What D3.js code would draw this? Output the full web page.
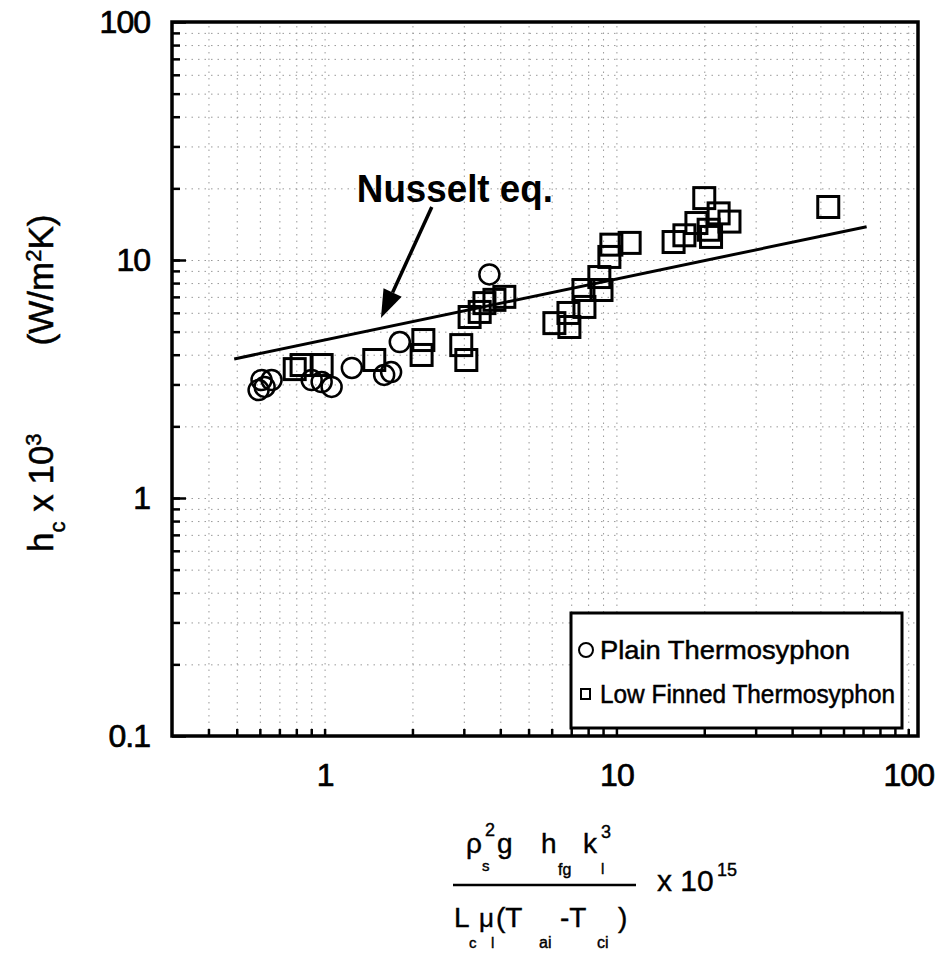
<!DOCTYPE html>
<html lang="en">
<head>
<meta charset="UTF-8">
<script src="https://cdn.jsdelivr.net/npm/d3@7"></script>
<style>
body { margin:0; background:#fff; }
text { font-family: "Liberation Sans", Arial, sans-serif; fill:#000; }
.grid line { stroke:#999; stroke-width:1; stroke-dasharray:1.5,5; }
.grid path, .ticks path, .labels path { display:none; }
.ticks line { stroke:#000; stroke-width:2.5; }
</style>
<title>hc vs Nusselt parameter</title>
</head>
<body>
<script>
// data
var plainX  = [0.594, 0.608, 0.658, 0.623, 0.903, 1.057, 0.977, 1.24, 1.60, 1.69, 1.81, 3.67];
var plainY  = [2.84, 3.13, 3.13, 2.93, 3.13, 2.93, 3.07, 3.52, 3.29, 3.38, 4.52, 8.7];
var finnedX = [0.79, 0.834, 0.977, 1.48, 2.18, 2.15, 2.94, 3.06, 3.14, 3.40, 3.53, 4.13, 3.82,
               6.13, 6.9, 6.85, 7.77, 7.71, 8.89, 8.74, 9.46, 9.61, 11.1, 15.7, 17.1, 18.8,
               20.0, 22.4, 24.4, 20.7, 21.1, 53.2];
var finnedY = [3.48, 3.62, 3.62, 3.80, 4.61, 3.99, 4.39, 3.80, 5.76, 6.05, 6.59, 7.0, 6.8,
               5.43, 5.23, 5.99, 6.35, 7.48, 7.48, 8.48, 10.3, 11.6, 11.8, 11.9, 12.7, 14.3,
               18.2, 15.7, 14.5, 13.4, 12.5, 16.7];
var nusseltX = [0.49, 72];
var nusseltY = [3.84, 13.8];
var xTicks = [1, 10, 100];
var yTicks = [0.1, 1, 10, 100];
var legendLabels = ["Plain Thermosyphon", "Low Finned Thermosyphon"];

var W = 951, H = 956;
var pL = 172, pT = 22, pR = 918, pB = 736;

var svg = d3.select("body").append("svg")
    .attr("width", W).attr("height", H);

var x = d3.scaleLog().domain([0.3, 108]).range([pL, pR]);
var y = d3.scaleLog().domain([0.1, 100]).range([pB, pT]);

function minors(lo, hi) {
  var out = [];
  for (var d = -2; d <= 2; d++)
    for (var k = 1; k <= 9; k++) {
      var v = k * Math.pow(10, d);
      if (v >= lo * 1.0001 && v <= hi * 0.9999) out.push(+v.toPrecision(3));
    }
  return out;
}
var xMinor = minors(0.3, 108), yMinor = minors(0.1, 100);

// dotted background grid
svg.append("g").attr("class", "grid")
  .attr("transform", "translate(0," + pB + ")")
  .call(d3.axisBottom(x).tickValues(xMinor).tickSize(-(pB - pT)).tickFormat(""));
svg.append("g").attr("class", "grid")
  .attr("transform", "translate(" + pL + ",0)")
  .call(d3.axisLeft(y).tickValues(yMinor).tickSize(-(pR - pL)).tickFormat(""));

// inward ticks
svg.append("g").attr("class", "ticks")
  .attr("transform", "translate(0," + pB + ")")
  .call(d3.axisBottom(x).tickValues(xMinor).tickSize(-7).tickFormat(""));
svg.append("g").attr("class", "ticks")
  .attr("transform", "translate(" + pL + ",0)")
  .call(d3.axisLeft(y).tickValues(yMinor).tickSize(-8).tickFormat(""));
svg.append("g").attr("class", "ticks")
  .attr("transform", "translate(" + pL + ",0)")
  .call(d3.axisLeft(y).tickValues(yTicks).tickSize(-14).tickFormat(""));

// frame
svg.append("rect")
  .attr("x", pL).attr("y", pT)
  .attr("width", pR - pL).attr("height", pB - pT)
  .attr("fill", "none").attr("stroke", "#000").attr("stroke-width", 3.5);

// tick labels
svg.append("g").attr("class", "labels")
  .attr("transform", "translate(0," + pB + ")")
  .call(d3.axisBottom(x).tickValues(xTicks).tickSize(0).tickPadding(27)
        .tickFormat(function(d) { return String(d); }));
svg.append("g").attr("class", "labels")
  .attr("transform", "translate(" + pL + ",0)")
  .call(d3.axisLeft(y).tickValues(yTicks).tickSize(0).tickPadding(22)
        .tickFormat(function(d) { return String(d); }));
svg.selectAll(".labels text")
  .attr("fill", "#000")
  .attr("stroke", "#000").attr("stroke-width", 0.7)
  .style("font-size", "32px")
  .style("letter-spacing", "-1px")
  .style("font-family", "'Liberation Sans', Arial, sans-serif");

// Nusselt line
var line = d3.line()
  .x(function(d) { return x(d[0]); })
  .y(function(d) { return y(d[1]); });
svg.append("path")
  .datum(d3.zip(nusseltX, nusseltY))
  .attr("d", line)
  .attr("fill", "none").attr("stroke", "#000").attr("stroke-width", 3);

// finned (squares)
var sq = 21;
svg.selectAll(".fin").data(d3.zip(finnedX, finnedY)).enter()
  .append("rect").attr("class", "fin")
  .attr("x", function(d) { return x(d[0]) - sq / 2; })
  .attr("y", function(d) { return y(d[1]) - sq / 2; })
  .attr("width", sq).attr("height", sq)
  .attr("fill", "none").attr("stroke", "#000").attr("stroke-width", 3);

// plain (circles)
svg.selectAll(".plain").data(d3.zip(plainX, plainY)).enter()
  .append("circle").attr("class", "plain")
  .attr("cx", function(d) { return x(d[0]); })
  .attr("cy", function(d) { return y(d[1]); })
  .attr("r", 10)
  .attr("fill", "none").attr("stroke", "#000").attr("stroke-width", 2.5);

// annotation "Nusselt eq." with arrow (data coordinates)
var noteText = [1.29, 17.5], arrowFrom = [2.33, 16.7], arrowTip = [1.56, 5.71];
svg.append("text")
  .attr("x", x(noteText[0])).attr("y", y(noteText[1]))
  .attr("textLength", 196).attr("lengthAdjust", "spacingAndGlyphs")
  .style("font-size", "38px").style("font-weight", "bold")
  .text("Nusselt eq.");
var ax0 = x(arrowFrom[0]), ay0 = y(arrowFrom[1]);
var ax1 = x(arrowTip[0]), ay1 = y(arrowTip[1]);
var ang = Math.atan2(ay1 - ay0, ax1 - ax0), hl = 28, hw = 10;
var bx = ax1 - hl * Math.cos(ang), by = ay1 - hl * Math.sin(ang);
svg.append("line")
  .attr("x1", ax0).attr("y1", ay0).attr("x2", bx).attr("y2", by)
  .attr("stroke", "#000").attr("stroke-width", 3.5);
svg.append("polygon")
  .attr("points", [[ax1, ay1],
    [bx + hw * Math.sin(ang), by - hw * Math.cos(ang)],
    [bx - hw * Math.sin(ang), by + hw * Math.cos(ang)]].map(function(p) { return p.join(","); }).join(" "))
  .attr("fill", "#000");

// legend
var lg = svg.append("g").attr("transform", "translate(571,613)");
lg.append("rect").attr("width", 331).attr("height", 115)
  .attr("fill", "#fff").attr("stroke", "#000").attr("stroke-width", 3);
lg.append("circle").attr("cx", 15).attr("cy", 37).attr("r", 7)
  .attr("fill", "none").attr("stroke", "#000").attr("stroke-width", 2);
lg.append("rect").attr("x", 10).attr("y", 76).attr("width", 9).attr("height", 10)
  .attr("fill", "none").attr("stroke", "#000").attr("stroke-width", 2);
lg.append("text").attr("x", 29).attr("y", 46)
  .attr("textLength", 250).attr("lengthAdjust", "spacingAndGlyphs")
  .attr("stroke", "#000").attr("stroke-width", 0.5)
  .style("font-size", "26px").text(legendLabels[0]);
lg.append("text").attr("x", 29).attr("y", 90)
  .attr("textLength", 295).attr("lengthAdjust", "spacingAndGlyphs")
  .attr("stroke", "#000").attr("stroke-width", 0.5)
  .style("font-size", "26px").text(legendLabels[1]);

// y axis title
var yt = svg.append("text")
  .attr("transform", "translate(53,552) rotate(-90)")
  .attr("stroke", "#000").attr("stroke-width", 0.5)
  .style("font-size", "35px");
yt.append("tspan").text("h");
yt.append("tspan").attr("baseline-shift", "-12").style("font-size", "22px").text("c");
yt.append("tspan").text(" x 10");
yt.append("tspan").attr("baseline-shift", "12").style("font-size", "22px").text("3");
yt.append("tspan").attr("dx", 88).text("(W/m");
yt.append("tspan").attr("baseline-shift", "12").style("font-size", "22px").text("2");
yt.append("tspan").text("K)");

// x axis title (fraction)
function t(xp, yp, s, fs) {
  svg.append("text").attr("x", xp).attr("y", yp)
    .attr("stroke", "#000").attr("stroke-width", 0.4)
    .style("font-size", fs + "px").text(s);
}
t(466, 853, "\u03c1", 28);
t(482, 871, "s", 15);
t(485, 836, "2", 18);
t(497, 853, "g", 28);
t(541, 853, "h", 28);
t(558, 875, "fg", 16);
t(583, 853, "k", 28);
t(601, 838, "3", 18);
t(601, 874, "l", 15);
svg.append("line").attr("x1", 453).attr("x2", 636).attr("y1", 885).attr("y2", 885)
  .attr("stroke", "#000").attr("stroke-width", 2.5);
t(454, 927, "L", 28);
t(469, 948, "c", 15);
t(479, 927, "\u03bc", 26);
t(491, 948, "l", 15);
t(496, 927, "(T", 28);
t(539, 948, "ai", 16);
t(560, 927, "-T", 28);
t(597, 948, "ci", 16);
t(618, 927, ")", 28);
t(657, 891, "x 10", 30);
t(717, 876, "15", 18);
</script>
</body>
</html>
